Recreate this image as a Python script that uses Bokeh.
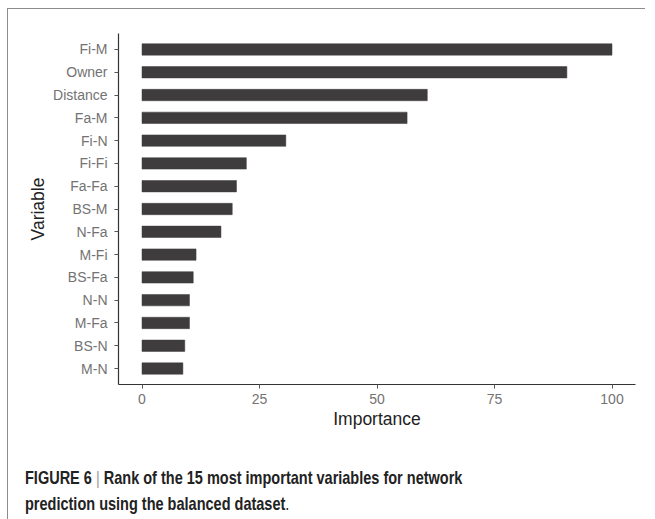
from bokeh.plotting import figure
from bokeh.models import FactorRange, Range1d, FixedTicker, Div
from bokeh.layouts import column
from bokeh.embed import file_html
from bokeh.resources import INLINE

variables = ["Fi-M", "Owner", "Distance", "Fa-M", "Fi-N", "Fi-Fi", "Fa-Fa",
             "BS-M", "N-Fa", "M-Fi", "BS-Fa", "N-N", "M-Fa", "BS-N", "M-N"]
importance = [100.0, 90.4, 60.7, 56.4, 30.6, 22.2, 20.1,
              19.2, 16.8, 11.5, 10.9, 10.1, 10.1, 9.1, 8.7]
x_ticks = [0, 25, 50, 75, 100]

factors = list(reversed(variables))

p = figure(
    output_backend="svg", toolbar_location=None,
    y_range=FactorRange(factors=factors, range_padding=0.2, range_padding_units="absolute"),
    x_range=Range1d(-5, 105),
    frame_width=517, frame_height=351,
    min_border_left=110, min_border_top=24, min_border_right=10, min_border_bottom=50,
)

p.hbar(y=variables, right=importance, left=0, height=0.5,
       fill_color="#3e3c3d", line_color="#3e3c3d", line_width=0.5)

p.xgrid.visible = False
p.ygrid.visible = False
p.outline_line_color = None
p.background_fill_color = "white"
p.border_fill_color = "white"

for ax in (p.xaxis[0], p.yaxis[0]):
    ax.axis_line_color = "#333333"
    ax.axis_line_width = 1.2
    ax.major_tick_line_color = "#555555"
    ax.major_tick_in = 0
    ax.major_tick_out = 4
    ax.minor_tick_line_color = None
    ax.major_label_text_font = "Liberation Sans"
    ax.major_label_text_font_size = "14px"
    ax.major_label_text_color = "#737373"
    ax.axis_label_text_font = "Liberation Sans"
    ax.axis_label_text_font_size = "17.5px"
    ax.axis_label_text_font_style = "normal"
    ax.axis_label_text_color = "#222222"

p.xaxis[0].ticker = FixedTicker(ticks=x_ticks)
p.xaxis[0].axis_label = "Importance"
p.xaxis[0].major_label_standoff = 5
p.xaxis[0].axis_label_standoff = 2
p.yaxis[0].axis_label = "Variable"
p.yaxis[0].major_label_standoff = 7
p.yaxis[0].axis_label_standoff = 2

caption = Div(
    text=('<div style="display:inline-block;white-space:nowrap;transform:scaleX(0.82);'
          'transform-origin:0 0;">'
          '<b>FIGURE 6</b> <span style="color:#9a9a9a;font-weight:normal">|</span> '
          '<b>Rank of the 15 most important variables for network<br>'
          'prediction using the balanced dataset</b>.</div>'),
    width=620,
    styles={"font-family": "'Liberation Sans', Arial, sans-serif",
            "font-size": "17.7px", "line-height": "26px", "color": "#222222",
            "padding-top": "26px", "padding-left": "12px"},
)

layout = column(p, caption, spacing=0,
                styles={"border-top": "1px solid #8c8c8c", "border-left": "1px solid #8c8c8c",
                        "margin-top": "8px", "margin-left": "7px"})

open("out.html", "w").write(file_html(layout, INLINE))
